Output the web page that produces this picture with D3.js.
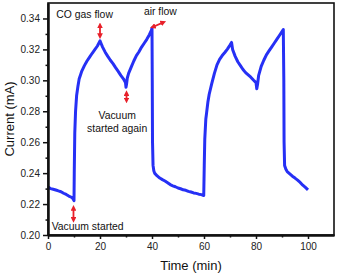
<!DOCTYPE html>
<html>
<head>
<meta charset="utf-8">
<script src="https://cdn.jsdelivr.net/npm/d3@7"></script>
<style>
  body { margin: 0; background: #fff; }
  svg { display: block; font-family: "Liberation Sans", Arial, sans-serif; }
</style>
</head>
<body>
<svg></svg>
<script>
// time (min) and current (mA)
const times = [
  0, 1, 2, 3, 4, 5, 6, 7, 8, 9, 9.5, 10,
  10.1, 10.3, 10.6, 11, 11.5, 12, 12.5, 13, 14, 15, 16, 17, 18, 19, 20,
  20.5, 21, 22, 23, 24, 25, 26, 27, 28, 29, 29.8, 30, 30.2,
  30.5, 31, 32, 33, 34, 35, 36, 37, 38, 39, 39.8, 40,
  40.1, 40.2, 40.4, 40.7, 41, 42, 43, 44, 45, 46, 47, 48, 49, 50, 51, 52, 53, 54, 55, 56, 57, 58, 59, 59.9,
  60.1, 60.3, 60.7, 61, 61.5, 62, 63, 64, 65, 66, 67, 68, 69, 70, 70.6,
  71, 72, 73, 74, 75, 76, 77, 78, 79, 80, 80.3, 80.6,
  81, 82, 83, 84, 85, 86, 87, 88, 89, 90, 90.5,
  90.7, 90.8, 91, 91.5, 92, 93, 94, 95, 96, 97, 98, 99, 100
];
const current = [
  0.2310, 0.2300, 0.2296, 0.2291, 0.2285, 0.2280, 0.2270, 0.2262, 0.2252, 0.2244, 0.2238, 0.2222,
  0.2400, 0.2660, 0.2800, 0.2900, 0.2960, 0.3010, 0.3035, 0.3060, 0.3095, 0.3125, 0.3150, 0.3175, 0.3198, 0.3222, 0.3255,
  0.3235, 0.3215, 0.3182, 0.3155, 0.3130, 0.3108, 0.3082, 0.3058, 0.3032, 0.3010, 0.2985, 0.2955, 0.2975,
  0.3015, 0.3045, 0.3085, 0.3125, 0.3160, 0.3185, 0.3215, 0.3240, 0.3265, 0.3295, 0.3325, 0.3338,
  0.3000, 0.2600, 0.2450, 0.2415, 0.2400, 0.2382, 0.2368, 0.2358, 0.2349, 0.2338, 0.2326, 0.2318, 0.2312, 0.2304, 0.2299, 0.2292, 0.2289, 0.2282, 0.2278, 0.2272, 0.2269, 0.2264, 0.2261, 0.2255,
  0.2450, 0.2620, 0.2750, 0.2790, 0.2860, 0.2910, 0.2980, 0.3045, 0.3100, 0.3135, 0.3160, 0.3180, 0.3202, 0.3228, 0.3245,
  0.3200, 0.3155, 0.3120, 0.3095, 0.3070, 0.3050, 0.3035, 0.3020, 0.3002, 0.2985, 0.2945, 0.2975,
  0.3030, 0.3090, 0.3130, 0.3165, 0.3190, 0.3215, 0.3240, 0.3265, 0.3290, 0.3315, 0.3328,
  0.3000, 0.2600, 0.2450, 0.2425, 0.2410, 0.2395, 0.2380, 0.2368, 0.2355, 0.2340, 0.2322, 0.2308, 0.2292
];

const xTicks = [0, 20, 40, 60, 80, 100];
const xMinor = [10, 30, 50, 70, 90];
const yTicks = [0.20, 0.22, 0.24, 0.26, 0.28, 0.30, 0.32, 0.34];
const yMinor = [0.21, 0.23, 0.25, 0.27, 0.29, 0.31, 0.33];

// annotations: label, time, current (baseline)
const notes = [
  { text: ["CO gas flow"], t: 3.2, v: 0.3406, anchor: "start" },
  { text: ["air flow"], t: 36.9, v: 0.3422, anchor: "start" },
  { text: ["Vacuum", "started again"], t: 26.6, v: 0.2747, anchor: "middle" },
  { text: ["Vacuum started"], t: 1.4, v: 0.2032, anchor: "start" }
];
// red arrows: from (t1, v1) to (t2, v2)
const arrows = [
  { t1: 20, v1: 0.3355, t2: 20, v2: 0.3285 },
  { t1: 30.2, v1: 0.2917, t2: 30.2, v2: 0.2870 },
  { t1: 9.8, v1: 0.2175, t2: 9.8, v2: 0.2098 },
  { t1: 40.3, v1: 0.3345, t2: 44.4, v2: 0.3375 }
];

const W = 338, H = 276;
const margin = { top: 3, right: 4, bottom: 41, left: 48 };

const svg = d3.select("svg").attr("width", W).attr("height", H);

const x = d3.scaleLinear().domain([0, 110]).range([margin.left, W - margin.right]);
const y = d3.scaleLinear().domain([0.20, 0.35]).range([H - margin.bottom, margin.top]);

// marker for red arrows
svg.append("defs").append("marker")
  .attr("id", "head")
  .attr("viewBox", "0 0 10 10")
  .attr("refX", 5).attr("refY", 5)
  .attr("markerWidth", 3.2).attr("markerHeight", 3.2)
  .attr("orient", "auto-start-reverse")
  .append("path")
  .attr("d", "M0,0L10,5L0,10z")
  .attr("fill", "#e8202a");

// data line
const line = d3.line()
  .x((d, i) => x(times[i]))
  .y(d => y(d));

svg.append("path")
  .datum(current)
  .attr("fill", "none")
  .attr("stroke", "#2630f5")
  .attr("stroke-width", 3)
  .attr("stroke-linejoin", "round")
  .attr("d", line);

// frame
svg.append("rect")
  .attr("x", margin.left).attr("y", margin.top)
  .attr("width", W - margin.left - margin.right)
  .attr("height", H - margin.top - margin.bottom)
  .attr("fill", "none")
  .attr("stroke", "#111")
  .attr("stroke-width", 1.6);

// axes
const xAxis = d3.axisBottom(x).tickValues(xTicks).tickFormat(d3.format("d")).tickSizeInner(4).tickSizeOuter(0).tickPadding(4);
const xAxisMinor = d3.axisBottom(x).tickValues(xMinor).tickFormat("").tickSizeInner(2.5).tickSizeOuter(0);
const yAxis = d3.axisLeft(y).tickValues(yTicks).tickFormat(d3.format(".2f")).tickSizeInner(5).tickSizeOuter(0).tickPadding(3);
const yAxisMinor = d3.axisLeft(y).tickValues(yMinor).tickFormat("").tickSizeInner(2.5).tickSizeOuter(0);

[
  [xAxis, `translate(0,${H - margin.bottom})`],
  [xAxisMinor, `translate(0,${H - margin.bottom})`],
  [yAxis, `translate(${margin.left},0)`],
  [yAxisMinor, `translate(${margin.left},0)`]
].forEach(([ax, tr]) => {
  const g = svg.append("g").attr("transform", tr).call(ax);
  g.select(".domain").attr("stroke", "#111").attr("stroke-width", 2);
  g.selectAll(".tick line").attr("stroke", "#111").attr("stroke-width", 1.5);
  g.selectAll(".tick text").attr("fill", "#222").attr("font-size", 10)
    .attr("font-family", "'Liberation Sans', Arial, sans-serif");
});

// axis titles
svg.append("text")
  .attr("x", (margin.left + W - margin.right) / 2)
  .attr("y", 270)
  .attr("text-anchor", "middle")
  .attr("font-size", 13)
  .attr("fill", "#111")
  .text("Time (min)");

svg.append("text")
  .attr("transform", `translate(14,${(margin.top + H - margin.bottom) / 2}) rotate(-90)`)
  .attr("text-anchor", "middle")
  .attr("font-size", 13)
  .attr("fill", "#111")
  .text("Current (mA)");

// annotations
notes.forEach(n => {
  const t = svg.append("text")
    .attr("x", x(n.t)).attr("y", y(n.v))
    .attr("text-anchor", n.anchor)
    .attr("font-size", 10.4)
    .attr("fill", "#111");
  n.text.forEach((s, i) => {
    t.append("tspan").attr("x", x(n.t)).attr("dy", i === 0 ? 0 : 12.5).text(s);
  });
});

svg.selectAll(".arrow")
  .data(arrows)
  .enter()
  .append("line")
  .attr("class", "arrow")
  .attr("x1", d => x(d.t1)).attr("y1", d => y(d.v1))
  .attr("x2", d => x(d.t2)).attr("y2", d => y(d.v2))
  .attr("stroke", "#e8202a")
  .attr("stroke-width", 1.8)
  .attr("marker-start", "url(#head)")
  .attr("marker-end", "url(#head)");
</script>
</body>
</html>
